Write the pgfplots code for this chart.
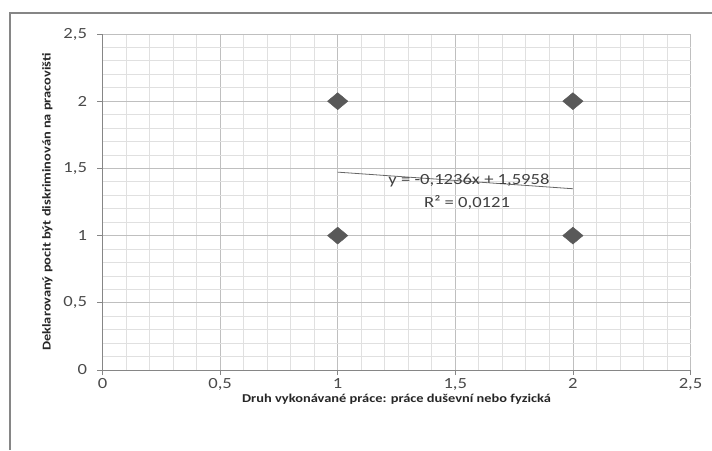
\documentclass[border=0pt]{standalone}
\usepackage{fontspec}
\setmainfont{Carlito}
\newfontfamily\widefont[FakeStretch=1.2]{Carlito}
\usepackage{pgfplots}
\pgfplotsset{compat=1.18}
\definecolor{gridmaj}{HTML}{BFBFBF}
\definecolor{gridmin}{HTML}{E0E0E0}
\definecolor{axisgray}{HTML}{868686}
\definecolor{textgray}{HTML}{4A4A4A}
\definecolor{markgray}{HTML}{595959}

\begin{document}
\begin{tikzpicture}[x=1pt,y=1pt]
\useasboundingbox (-102.5,-80) rectangle (609.5,370);
\draw[color=axisgray, line width=1.2pt] (-92.5,-80) -- (-92.5,357) -- (609.5,357);
\begin{axis}[
    at={(0,0)}, anchor=south west,
    width=588pt, height=336pt, scale only axis,
    xmin=0, xmax=2.5, ymin=0, ymax=2.5,
    xtick={0,0.5,1,1.5,2,2.5},
    ytick={0,0.5,1,1.5,2,2.5},
    minor tick num=4,
    grid=both,
    major grid style={gridmaj, line width=0.8pt},
    minor grid style={gridmin, line width=0.8pt},
    axis x line*=bottom, axis y line*=left,
    axis line style={-, axisgray, line width=0.8pt},
    tick align=outside, major tick length=5pt, minor tick length=0pt,
    tick style={axisgray, line width=0.8pt},
    ticklabel style={font=\widefont\fontsize{15.5}{15.5}\selectfont, color=textgray},
    yticklabel style={xshift=-7pt},
    /pgf/number format/.cd, use comma, assume math mode=true,
    /pgfplots/.cd,
    xlabel={Druh vykonávané práce: práce duševní nebo fyzická},
    ylabel={Deklarovaný pocit být diskriminován na pracovišti},
    label style={font=\widefont\bfseries\fontsize{12}{13}\selectfont, color=black!85},
    xlabel style={at={(axis description cs:0.5,-0.087)}, anchor=center},
    ylabel style={at={(axis description cs:-0.094,0.5)}, anchor=center},
]
\addplot[no marks, color=black!60, line width=0.8pt]
    coordinates {(1,1.4722) (2,1.3486)};
\addplot[only marks, mark=diamond*, mark size=8.5,
    mark options={xscale=1.6, fill=markgray, draw=markgray}]
    coordinates {(1,1) (1,2) (2,1) (2,2)};
\node[font=\widefont\fontsize{15.5}{15.5}\selectfont, color=black!75]
    at (axis cs:1.558,1.414) {y = -0,1236x + 1,5958};
\node[font=\widefont\fontsize{15.5}{15.5}\selectfont, color=black!75]
    at (axis cs:1.55,1.243) {R² = 0,0121};
\end{axis}
\end{tikzpicture}
\end{document}
